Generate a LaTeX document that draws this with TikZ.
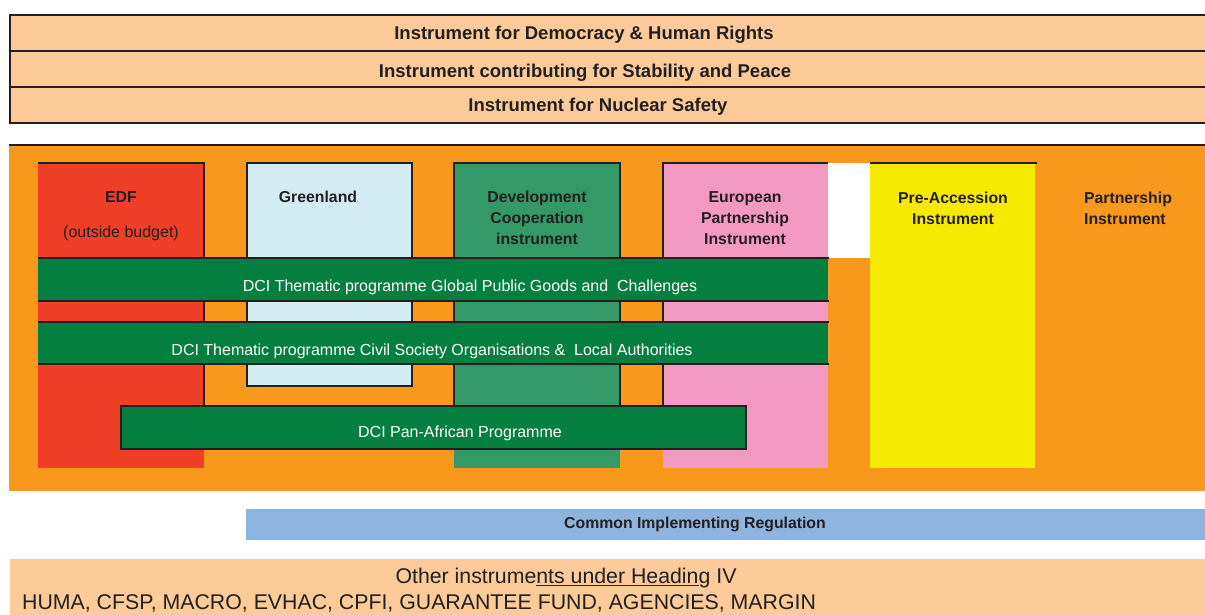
\documentclass[tikz,border=0pt]{standalone}
\usepackage{fontspec}
\setmainfont{Liberation Sans}
\usepackage{xcolor}
\usetikzlibrary{positioning}

\definecolor{peach}{HTML}{FDCB9A}
\definecolor{amber}{HTML}{F8981D}
\definecolor{edfred}{HTML}{EF4027}
\definecolor{icepale}{HTML}{D3EBF2}
\definecolor{dcimid}{HTML}{339966}
\definecolor{dcidark}{HTML}{047F40}
\definecolor{rosepink}{HTML}{F49AC2}
\definecolor{lemon}{HTML}{F5EA00}
\definecolor{cirblue}{HTML}{8DB3DF}
\definecolor{ink}{HTML}{231F20}

\begin{document}
\begin{tikzpicture}[
    x=1pt, y=-1pt,
    band/.style={draw=ink, line width=1.3pt, fill=peach},
    rim/.style={draw=ink, line width=1.2pt},
    title/.style={font=\fontsize{18.5}{22}\selectfont\bfseries, text=ink, inner sep=0pt},
    boxlabel/.style={font=\fontsize{15.8}{21}\selectfont\bfseries, text=ink, align=center, inner sep=0pt},
    bartext/.style={font=\fontsize{16}{19}\selectfont, text=white, inner sep=0pt},
    plain/.style={font=\fontsize{21.3}{25}\selectfont, text=ink, inner sep=0pt}
]
\useasboundingbox (0,0) rectangle (1205,614);

% Horizontal instruments on top
\draw[band] (10,15) rectangle (1215,51);
\draw[band] (10,51) rectangle (1215,87);
\draw[band] (10,87) rectangle (1215,123);
\node[title] (dhr) at (584,35) {Instrument for Democracy \& Human Rights};
\node[title] (stab) at (585,73) {Instrument contributing for Stability and Peace};
\node[title] (nucl) at (598,107) {Instrument for Nuclear Safety};

% Geographic instruments
\fill[amber] (9,145) rectangle (1205,491);
\draw[ink, line width=1.5pt] (9,145) -- (1205,145);
\fill[edfred] (38,163) rectangle (204,468);
\fill[icepale] (247,163) rectangle (412,386);
\fill[dcimid] (454,163) rectangle (620,468);
\fill[rosepink] (663,163) rectangle (828,468);
\fill[white] (828,163) rectangle (870,258);
\fill[lemon] (870,163) rectangle (1035,468);

\draw[rim] (38,163) -- (204,163) -- (204,406);
\draw[rim] (247,163) rectangle (412,386);
\draw[rim] (454,406) -- (454,163) -- (620,163) -- (620,406);
\draw[rim] (663,406) -- (663,163) -- (828,163);
\draw[rim] (870,163) -- (1037,163);

\node[boxlabel] (edf) at (121,197) {EDF};
\node[boxlabel, font=\fontsize{16}{19}\selectfont] (edfnote) at (121,233) {(outside budget)};
\node[boxlabel] (green) at (318,197) {Greenland};
\node[boxlabel] (dci) at (537,218) {Development\\Cooperation\\instrument};
\node[boxlabel] (epi) at (745,218) {European\\Partnership\\Instrument};
\node[boxlabel] (ipa) at (953,208) {Pre-Accession\\Instrument};
\node[boxlabel, align=left] (pi) at (1128,208) {Partnership\\Instrument};

% Thematic programmes across
\fill[dcidark] (38,258) rectangle (828,301);
\draw[rim] (38,258) -- (829,258) (38,301) -- (829,301);
\fill[dcidark] (38,322) rectangle (828,364);
\draw[rim] (38,322) -- (829,322) (38,364) -- (829,364);
\draw[rim, fill=dcidark] (121,406) rectangle (746,449);
\node[bartext] (gpgc) at (470,287) {DCI Thematic programme Global Public Goods and~~Challenges};
\node[bartext] (csola) at (432,351) {DCI Thematic programme Civil Society Organisations \&~~Local Authorities};
\node[bartext] (panaf) at (460,433) {DCI Pan-African Programme};

% Common rules and the rest of Heading IV
\fill[cirblue] (246,509) rectangle (1205,540);
\node[boxlabel] (cir) at (695,524) {Common Implementing Regulation};
\fill[peach] (10,559) rectangle (1205,620);
\node[plain] (other) at (566,578) {Other instrume\underline{nts under Headin}g IV};
\node[plain, anchor=base west] (rest) at (22,609) {HUMA, CFSP, MACRO, EVHAC, CPFI, GUARANTEE FUND, AGENCIES, MARGIN};

\end{tikzpicture}
\end{document}
